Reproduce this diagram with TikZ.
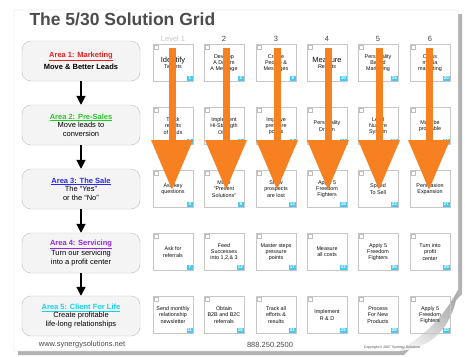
\documentclass[tikz,border=0pt]{standalone}
\usepackage{fontspec}
\setmainfont{Liberation Sans}
\usetikzlibrary{arrows.meta}
\definecolor{oarr}{RGB}{247,128,32}
\definecolor{aone}{RGB}{232,30,30}
\definecolor{atwo}{RGB}{40,200,40}
\definecolor{athree}{RGB}{40,40,240}
\definecolor{afour}{RGB}{150,40,220}
\definecolor{afive}{RGB}{20,210,235}
\definecolor{badgec}{RGB}{70,200,240}
\begin{document}
\begin{tikzpicture}[x=1pt,y=-1pt,
  lbox/.style={draw=gray!50, fill=gray!9, rounded corners=9pt, minimum width=118pt, minimum height=40pt, align=center, font=\fontsize{7.5}{8.6}\selectfont, inner sep=1pt},
  gbox/.style={draw=gray!45, line width=0.5pt, minimum width=40pt, minimum height=37pt, align=center, font=\fontsize{5.4}{6.2}\selectfont, inner sep=1pt, text=gray!10!black},
  badge/.style={fill=badgec, text=white, font=\fontsize{4.5}{4.5}\selectfont\bfseries, inner sep=0.6pt, minimum size=5.5pt, anchor=south east},
  cbox/.style={draw=gray!50, line width=0.3pt, minimum size=4pt, inner sep=0pt, anchor=north west},
  oarrow/.style={draw=oarr, line width=7pt, -{Triangle[width=40pt,length=50pt]}},
  karrow/.style={line width=1.7pt, -{Triangle[width=9pt,length=9pt]}},
  hdr/.style={font=\fontsize{7.5}{7.5}\selectfont, text=gray!55!black}
]
\useasboundingbox (0,0) rectangle (465,356);
\fill[white] (0,0) rectangle (465,356);
% paper shadow and paper
\fill[gray!60] (18,14) -- (462,14) -- (462,294) -- (404,355) -- (18,355) -- cycle;
\fill[white, draw=gray!35, line width=0.4pt] (14,10) -- (458,10) -- (458,290) .. controls (445,315) and (425,336) .. (400,351) -- (14,351) -- cycle;
\shade[left color=gray!10, right color=gray!65, shading angle=135] (458,290) .. controls (445,315) and (425,336) .. (400,351) .. controls (430,348) and (452,330) .. (458,290) -- cycle;
% title
\node[anchor=west, font=\fontsize{17.5}{17.5}\selectfont\bfseries, text=gray!60!black] (title) at (26,19) {The 5/30 Solution Grid};
% left column
\node[lbox] (a1) at (81,61) {\textcolor{aone}{\bfseries\underline{Area 1: Marketing}}\\[2pt]\bfseries Move \& Better Leads};
\node[lbox] (a2) at (81,125) {\textcolor{atwo}{\bfseries\underline{Area 2: Pre-Sales}}\\Move leads to\\conversion};
\node[lbox] (a3) at (81,189) {\textcolor{athree}{\bfseries\underline{Area 3: The Sale}}\\The ``Yes''\\or the ``No''};
\node[lbox] (a4) at (81,253) {\textcolor{afour}{\bfseries\underline{Area 4: Servicing}}\\Turn our servicing\\into a profit center};
\node[lbox] (a5) at (81,316) {\textcolor{afive}{\bfseries\underline{Area 5: Client For Life}}\\Create profitable\\life-long relationships};
\foreach \i/\j in {a1/a2,a2/a3,a3/a4,a4/a5} \draw[karrow] (\i.south) -- (\j.north);
% headers
\node[hdr, text=gray!45] (h1) at (173,39) {Level 1};
\foreach \c/\x in {2/224,3/276,4/327,5/378,6/430} \node[hdr] (h\c) at (\x,39) {\c};
% grid
\foreach \r/\y in {1/63,2/126,3/189,4/252,5/315}{
  \foreach \c/\x in {1/173,2/224,3/276,4/327,5/378,6/430}{
    \coordinate (p\r\c) at (\x,\y);
  }
}
\foreach \r/\c/\n/\t in {
 1/1/1/{\fontsize{7.5}{8.5}\selectfont Identify\\Targets},
 1/2/2/{Develop\\A Dream\\A Message},
 1/3/6/{Create\\People \&\\Messages},
 1/4/10/{\fontsize{7.5}{8.5}\selectfont Measure\\Results},
 1/5/15/{Personality\\Based\\Marketing},
 1/6/20/{Cross\\media\\marketing},
 2/1/3/{Track\\results\\of leads},
 2/2/5/{Implement\\Hi-Strength\\Offer},
 2/3/8/{Improve\\pressure\\points},
 2/4/14/{Personality\\Driven},
 2/5/19/{Lead\\Nurture\\System},
 2/6/24/{Must be\\profitable},
 3/1/4/{Ask key\\questions},
 3/2/9/{Make\\``Present\\Solutions''},
 3/3/13/{Show\\prospects\\are lost},
 3/4/18/{Apply 5\\Freedom\\Fighters},
 3/5/23/{Speed\\To Sell},
 3/6/27/{Persuasion\\Expansion},
 4/1/7/{Ask for\\referrals},
 4/2/12/{Feed\\Successes\\into 1,2,\& 3},
 4/3/17/{Master steps\\pressure\\points},
 4/4/22/{Measure\\all costs},
 4/5/26/{Apply 5\\Freedom\\Fighters},
 4/6/29/{Turn into\\profit\\center},
 5/1/11/{Send monthly\\relationship\\newsletter},
 5/2/16/{Obtain\\B2B and B2C\\referrals},
 5/3/21/{Track all\\efforts \&\\results},
 5/4/25/{Implement\\R \& D},
 5/5/28/{Process\\For New\\Products},
 5/6/30/{Apply 5\\Freedom\\Fighters}}{
  \node[gbox] (g\r\c) at (p\r\c) {\t};
  \node[badge] (b\r\c) at ([xshift=-0.5pt,yshift=0.5pt]g\r\c.south east) {\n};
  \node[cbox] (k\r\c) at ([xshift=1pt,yshift=-1pt]g\r\c.north west) {};
}
% orange arrows
\foreach \c/\x in {1/172,2/226,3/277,4/328,5/379,6/429}{
  \coordinate (ot\c) at (\x,48);
  \coordinate (ob\c) at (\x,190);
  \draw[oarrow] (ot\c) -- (ob\c);
}
% footer
\node[font=\fontsize{7.5}{7.5}\selectfont, text=gray!60!black] (web) at (82,345) {www.synergysolutions.net};
\node[font=\fontsize{7.5}{7.5}\selectfont, text=gray!60!black] (tel) at (270,345) {888.250.2500};
\node[font=\fontsize{3.5}{3.5}\selectfont, text=gray!60!black] (copy) at (392,348) {Copyright \textcopyright{} 2007 Synergy Solutions};
\end{tikzpicture}
\end{document}
